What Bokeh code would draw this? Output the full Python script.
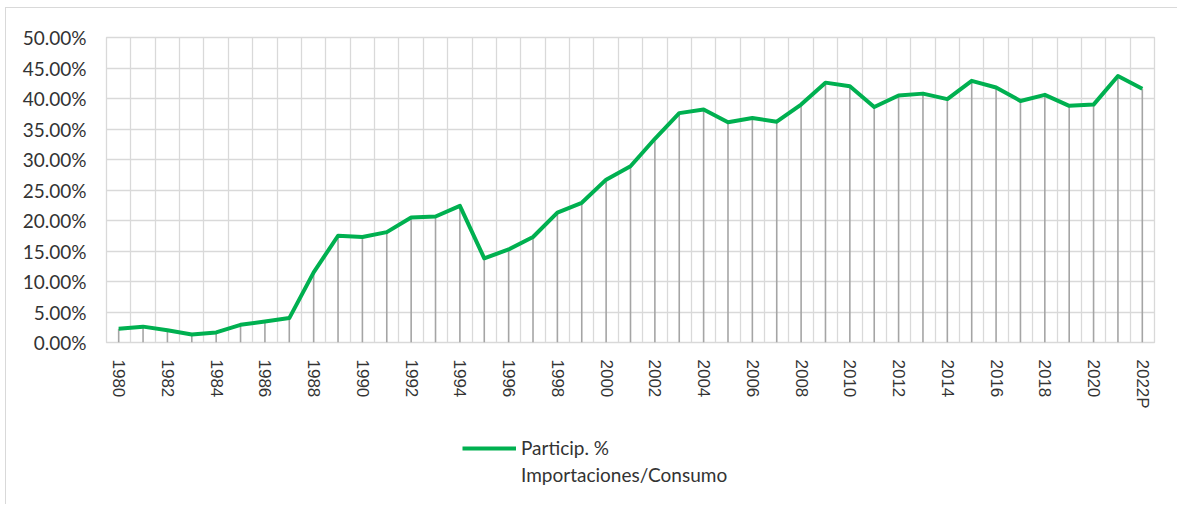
from bokeh.plotting import figure
from bokeh.layouts import column
from bokeh.models import (Range1d, FixedTicker, NumeralTickFormatter, Legend, LegendItem,
                          ColumnDataSource)
from bokeh.embed import file_html
from bokeh.resources import INLINE

years = ["1980", "1981", "1982", "1983", "1984", "1985", "1986", "1987", "1988", "1989",
         "1990", "1991", "1992", "1993", "1994", "1995", "1996", "1997", "1998", "1999",
         "2000", "2001", "2002", "2003", "2004", "2005", "2006", "2007", "2008", "2009",
         "2010", "2011", "2012", "2013", "2014", "2015", "2016", "2017", "2018", "2019",
         "2020", "2021", "2022P"]
particip = [0.0225, 0.0260, 0.0200, 0.0130, 0.0165, 0.0290, 0.0345, 0.0400, 0.1150, 0.1750,
            0.1730, 0.1810, 0.2050, 0.2065, 0.2240, 0.1380, 0.1525, 0.1730, 0.2130, 0.2290,
            0.2670, 0.2890, 0.3340, 0.3760, 0.3820, 0.3610, 0.3680, 0.3620, 0.3900, 0.4260,
            0.4200, 0.3860, 0.4050, 0.4080, 0.3990, 0.4290, 0.4180, 0.3960, 0.4060, 0.3880,
            0.3900, 0.4370, 0.4160]
y_ticks = [0.0, 0.05, 0.10, 0.15, 0.20, 0.25, 0.30, 0.35, 0.40, 0.45, 0.50]
series_name = "Particip. %"
series_name_2 = "Importaciones/Consumo"

GREEN = "#00b050"
TEXT = "#333333"
GRID = "#d9d9d9"

idx = list(range(len(years)))
src = ColumnDataSource(dict(x=idx, y=particip, zero=[0.0] * len(idx), year=years))

p = figure(width=1171, height=412, output_backend="svg", toolbar_location=None,
           x_range=Range1d(-0.5, len(years) - 0.5), y_range=Range1d(0, 0.5),
           min_border_left=100, min_border_right=23, min_border_top=29, min_border_bottom=78)
p.background_fill_color = "white"
p.border_fill_color = "white"
p.outline_line_color = GRID
p.outline_line_width = 1.3

# grid
p.xgrid.ticker = FixedTicker(ticks=[i - 0.5 for i in range(len(years) + 1)])
p.xgrid.grid_line_color = GRID
p.xgrid.grid_line_width = 1.3
p.ygrid.ticker = FixedTicker(ticks=y_ticks)
p.ygrid.grid_line_color = GRID
p.ygrid.grid_line_width = 1.3

# axes
p.yaxis.ticker = FixedTicker(ticks=y_ticks)
p.yaxis.formatter = NumeralTickFormatter(format="0.00%")
p.yaxis.axis_line_color = None
p.yaxis.major_tick_line_color = None
p.yaxis.minor_tick_line_color = None
p.yaxis.major_label_standoff = 14
p.yaxis.major_label_text_font = "Lato"
p.yaxis.major_label_text_font_size = "19px"
p.yaxis.major_label_text_color = TEXT

p.xaxis.ticker = FixedTicker(ticks=idx[::2])
p.xaxis.major_label_overrides = {i: years[i] for i in idx}
p.xaxis.major_label_orientation = "vertical"
p.xaxis.axis_line_color = None
p.xaxis.major_tick_line_color = None
p.xaxis.minor_tick_line_color = None
p.xaxis.major_label_standoff = 11
p.xaxis.major_label_text_font = "Liberation Sans"
p.xaxis.major_label_text_font_size = "17px"
p.xaxis.major_label_text_color = TEXT

# drop lines
p.segment(x0="x", y0="zero", x1="x", y1="y", source=src, line_color="#a5a5a5", line_width=1.6)
# main line
p.line(x="x", y="y", source=src, line_color=GREEN, line_width=4, line_join="round")

# legend area (separate strip below the chart)
lg = figure(width=1171, height=84, output_backend="svg", toolbar_location=None,
            x_range=Range1d(0, 1), y_range=Range1d(0, 1),
            min_border_left=0, min_border_right=0, min_border_top=0, min_border_bottom=0)
lg.axis.visible = False
lg.grid.visible = False
lg.outline_line_color = None
lg.background_fill_color = "white"
lg.border_fill_color = "white"
# proxy renderers kept outside the visible range; only used for legend glyphs
r1 = lg.line(x=[-5, -4], y=[-5, -5], line_color=GREEN, line_width=4)
r2 = lg.line(x=[-5, -4], y=[-5, -5], line_color=GREEN, line_alpha=0)
legend = Legend(items=[LegendItem(label=series_name, renderers=[r1]),
                       LegendItem(label=series_name_2, renderers=[r2])],
                location=(356, 18), orientation="vertical",
                border_line_color=None, background_fill_alpha=0,
                padding=0, margin=0, spacing=4,
                glyph_width=54, glyph_height=22, label_height=22, label_standoff=5,
                label_text_font="Lato", label_text_font_size="19px",
                label_text_color=TEXT)
lg.add_layout(legend, "center")

layout = column(p, lg, spacing=0, margin=(7, 0, 0, 5),
                styles={"border-top": "1px solid #d9d9d9", "border-left": "1px solid #d9d9d9"})

open("out.html", "w").write(file_html(layout, INLINE))
